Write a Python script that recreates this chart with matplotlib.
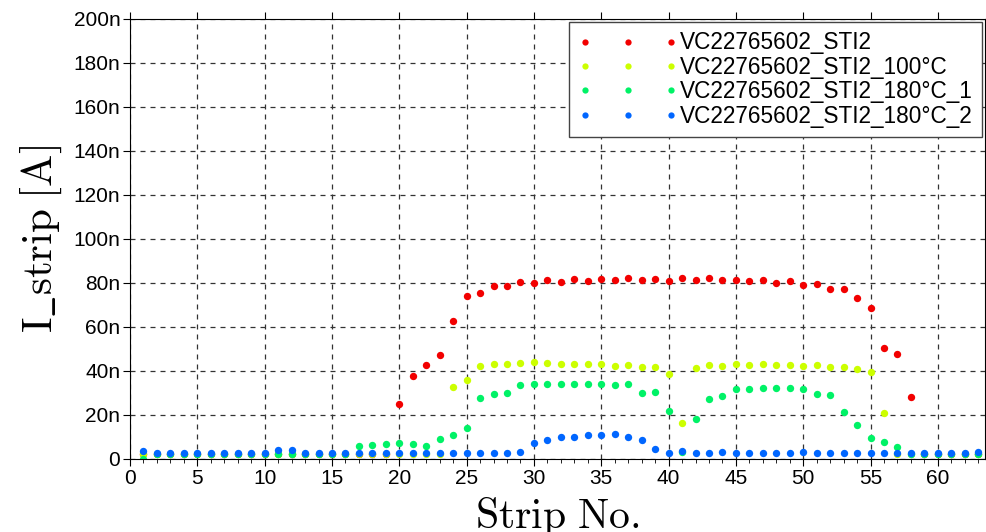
import numpy as np
import matplotlib
matplotlib.use("Agg")
import matplotlib.pyplot as plt
from matplotlib.ticker import MultipleLocator, FuncFormatter

# strip numbers 1..63
strips = np.arange(1, 64)

# I_strip in nA
i_sti2 = [2.3, 2.3, 2.3, 2.3, 2.3, 2.3, 2.3, 2.3, 2.3, 2.3,
          2.3, 2.3, 2.3, 2.3, 2.3, 2.3, 2.3, 2.3, 2.3, 24.8,
          37.6, 42.7, 47.3, 62.9, 74.2, 75.6, 78.8, 78.5, 80.5, 80.0,
          81.2, 80.6, 81.8, 81.1, 82.0, 81.2, 82.1, 81.2, 82.0, 80.9,
          82.4, 81.2, 82.1, 81.2, 81.5, 80.8, 81.5, 80.2, 80.8, 79.1,
          79.7, 77.3, 77.1, 73.0, 68.6, 50.3, 47.9, 28.2, 2.3, 2.3,
          2.3, 2.3, 2.3]
i_100c = [2.2, 2.2, 2.2, 2.2, 2.2, 2.2, 2.2, 2.2, 2.2, 2.2,
          2.2, 2.2, 2.2, 2.2, 2.2, 2.2, 2.2, 2.2, 2.2, 2.2,
          2.2, 2.2, 2.2, 32.6, 36.0, 42.1, 43.3, 43.3, 43.6, 43.9,
          43.6, 43.3, 43.3, 43.0, 43.0, 42.3, 42.6, 41.8, 41.8, 38.6,
          16.4, 41.5, 42.6, 42.3, 43.0, 42.6, 43.2, 42.7, 42.9, 42.4,
          42.6, 41.8, 41.8, 40.9, 39.4, 20.9, 2.2, 2.2, 2.2, 2.2,
          2.2, 2.2, 2.2]
i_180c_1 = [0.0, 2.5, 2.5, 2.5, 2.5, 2.5, 2.5, 2.5, 2.5, 2.5,
            2.4, 2.4, 2.5, 2.5, 2.5, 2.5, 5.9, 6.5, 6.8, 7.1,
            6.7, 5.9, 8.9, 10.8, 14.2, 27.6, 29.5, 29.8, 33.8, 33.9,
            34.2, 33.9, 34.2, 33.9, 33.9, 33.6, 33.9, 30.2, 30.6, 21.7,
            3.0, 18.0, 27.1, 28.6, 32.0, 32.0, 32.3, 32.3, 32.1, 31.7,
            29.5, 29.2, 21.2, 15.3, 9.7, 7.6, 5.3, 2.5, 2.5, 2.5,
            2.5, 2.5, 2.5]
i_180c_2 = [3.5, 2.7, 2.7, 2.7, 2.7, 2.7, 2.7, 2.7, 2.7, 2.7,
            4.2, 4.2, 2.7, 2.7, 2.7, 2.7, 2.7, 2.7, 2.7, 2.7,
            2.7, 2.7, 2.7, 2.7, 2.7, 2.7, 2.7, 2.7, 3.0, 7.4,
            8.8, 10.2, 10.2, 10.8, 10.9, 11.2, 10.0, 8.8, 4.4, 2.7,
            3.6, 2.7, 2.7, 3.2, 2.7, 2.7, 2.7, 2.7, 2.7, 3.3,
            2.7, 2.7, 2.7, 2.7, 2.7, 2.7, 2.7, 2.7, 2.7, 2.7,
            2.7, 2.7, 3.2]

labels = ["VC22765602_STI2", "VC22765602_STI2_100°C",
          "VC22765602_STI2_180°C_1", "VC22765602_STI2_180°C_2"]
colors = ["#f20000", "#ccff00", "#00f266", "#0066ff"]

plt.rcParams["font.family"] = ["Liberation Sans", "DejaVu Sans"]
plt.rcParams["mathtext.fontset"] = "cm"

fig = plt.figure(figsize=(9.86, 5.32), dpi=100)
ax = fig.add_axes([130 / 986, 73 / 532, 855 / 986, 440 / 532])

series = [i_sti2, i_100c, i_180c_1, i_180c_2]
for vals, lab, col in zip(series, labels, colors):
    ax.plot(strips, np.array(vals) * 1e-9, "o", color=col, markersize=5.3,
            markeredgewidth=0, label=lab)

ax.set_xlim(0, 63.5)
ax.set_ylim(0, 200e-9)
ax.xaxis.set_major_locator(MultipleLocator(5))
ax.xaxis.set_minor_locator(MultipleLocator(1))
ax.yaxis.set_major_locator(MultipleLocator(20e-9))
ax.yaxis.set_major_formatter(FuncFormatter(
    lambda v, p: "0" if abs(v) < 1e-12 else "%dn" % round(v * 1e9)))

ax.tick_params(axis="both", which="major", labelsize=15, length=5,
               top=True, right=True, direction="out", pad=2)
ax.tick_params(axis="x", which="minor", length=3, direction="out")
ax.grid(True, which="major", color="#333333", linestyle=(0, (4, 4)), linewidth=0.9)

ax.set_xlabel(r"$\mathrm{Strip\ No.}$", fontsize=30, labelpad=5)
ax.set_ylabel(r"$\mathrm{I\_strip\;[A]}$", fontsize=31, labelpad=7)

leg = ax.legend(loc="upper right", numpoints=3, fontsize=16.3, markerscale=0.85,
                handlelength=4.4, handletextpad=0.1, labelspacing=0.06,
                borderpad=0.4, borderaxespad=0.15, fancybox=False, framealpha=1)
leg.get_frame().set_edgecolor("#444444")
leg.get_frame().set_linewidth(1.0)

fig.savefig("out.png", dpi=100)
